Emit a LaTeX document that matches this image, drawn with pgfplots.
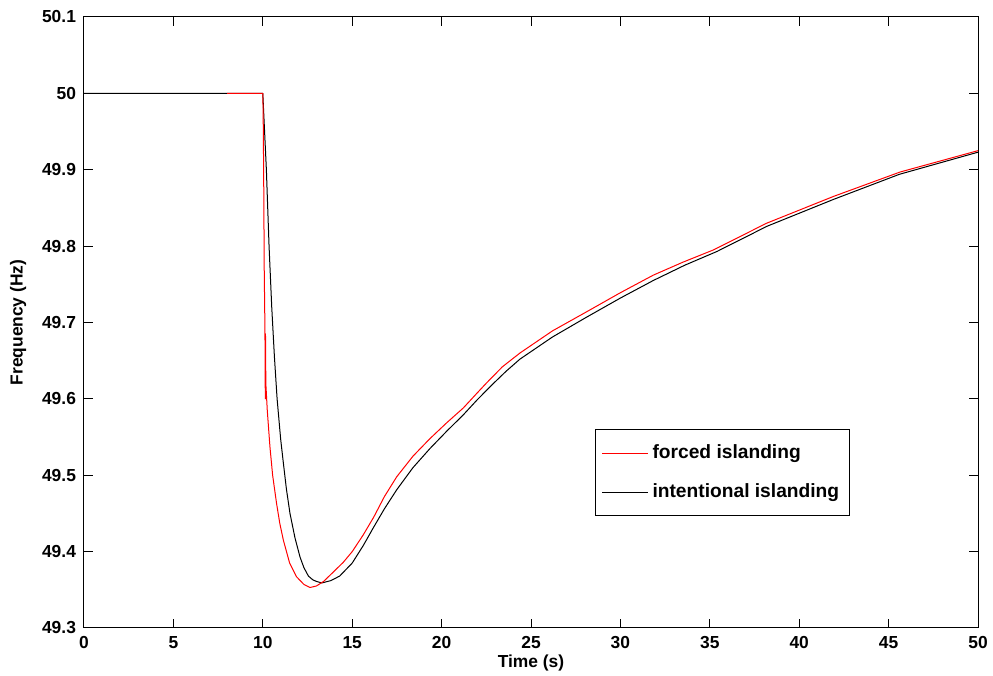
\documentclass[border=0pt]{standalone}
\usepackage{pgfplots}
\pgfplotsset{compat=1.18}
\usepackage{fontspec}
\setmainfont{Liberation Sans}
\usetikzlibrary{calc}
\begin{document}
\begin{tikzpicture}
\begin{axis}[
  scale only axis,
  width=447pt, height=305.5pt,
  xmin=0, xmax=50, ymin=49.3, ymax=50.1,
  xtick={0,5,10,15,20,25,30,35,40,45,50},
  ytick={49.3,49.4,49.5,49.6,49.7,49.8,49.9,50,50.1},
  yticklabels={49.3,49.4,49.5,49.6,49.7,49.8,49.9,50,50.1},
  tick align=inside,
  major tick length=4.5pt,
  tick style={black, line width=0.5pt},
  axis line style={black, line width=0.5pt},
  /pgf/number format/assume math mode=true,
  ticklabel style={font=\fontsize{8.7}{10}\selectfont\bfseries},
  xticklabel style={yshift=-0.5pt},
  yticklabel style={xshift=-0.5pt},
  xlabel={Time (s)},
  ylabel={Frequency (Hz)},
  label style={font=\fontsize{8.7}{10}\selectfont\bfseries},
  xlabel style={at={(axis description cs:0.5,-0.0573)}, anchor=center},
  ylabel style={at={(axis description cs:-0.0738,0.5)}, anchor=center, rotate=0},
  legend style={at={(rel axis cs:0.5716,0.1833)}, anchor=south west,
    draw=black, line width=0.5pt, font=\fontsize{9.6}{11.5}\selectfont\bfseries,
    inner xsep=3pt, inner ysep=5.5pt, row sep=7pt},
  legend cell align=left,
  legend image code/.code={\draw[#1] (0pt,0pt) -- (23pt,0pt);},
]
\addlegendimage{red, line width=0.5pt}
\addlegendentry{forced islanding}
\addlegendimage{black, line width=0.5pt}
\addlegendentry{intentional islanding}

\addplot[black, line width=0.5pt, forget plot, line join=round] coordinates {
(0,50) (10.0,50) (10.05,49.975) (10.2,49.90) (10.35,49.80) (10.5,49.72)
(10.65,49.655) (10.8,49.60) (11.0,49.547)
(11.15,49.516) (11.32,49.482) (11.52,49.45) (11.8,49.418)
(12.08,49.393) (12.3,49.379) (12.55,49.368) (12.8,49.363) (13.0,49.361) (13.3,49.359) (13.8,49.362)
(14.3,49.368) (15.0,49.385) (15.62,49.408) (16.2,49.432) (16.8,49.456) (17.49,49.481)
(18.4,49.51) (19.35,49.535) (20.3,49.558)
(21.21,49.579) (22.0,49.599) (22.89,49.620) (23.6,49.636) (24.38,49.652) (26.2,49.681) (28.11,49.707)
(30.0,49.732) (31.84,49.755) (33.6,49.775)
(35.4,49.793) (38.2,49.826) (41.9,49.861) (45.6,49.894) (50,49.923)
};
\addplot[red, line width=0.5pt, forget plot, line join=round] coordinates {
(8,50) (10.0,50) (10.02,49.974) (10.05,49.89) (10.08,49.77) (10.12,49.69)
(10.14,49.60) (10.15,49.685) (10.17,49.62) (10.25,49.585) (10.4,49.537)
(10.55,49.50) (10.77,49.463) (10.95,49.437)
(11.15,49.415) (11.5,49.385) (11.89,49.367) (12.3,49.357) (12.64,49.353)
(13.0,49.355) (13.4,49.361) (13.8,49.37) (14.5,49.386) (15.0,49.40)
(15.62,49.422) (16.2,49.445) (16.8,49.472) (17.49,49.498) (18.4,49.525) (19.35,49.548) (20.3,49.569)
(21.21,49.588) (22.0,49.608) (22.52,49.621)
(23.4,49.642) (24.38,49.660) (26.2,49.689) (28.11,49.714) (30.0,49.739) (31.84,49.762) (33.5,49.779)
(35.2,49.795) (38.18,49.830)
(41.91,49.865) (45.64,49.897) (50,49.925)
};
\end{axis}
\pgfresetboundingbox
\path ($(current axis.south west)+(-42pt,-24pt)$) rectangle ($(current axis.north east)+(7.5pt,8.5pt)$);
\end{tikzpicture}
\end{document}
